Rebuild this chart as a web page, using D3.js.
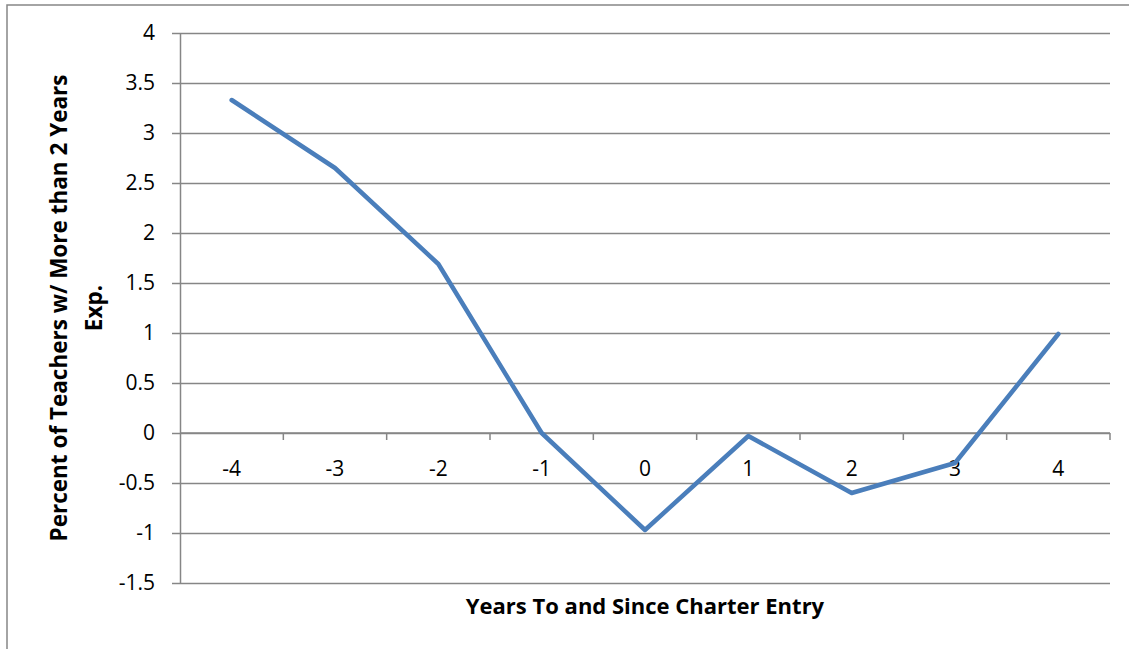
<!DOCTYPE html>
<html>
<head>
<meta charset="utf-8">
<script src="https://cdn.jsdelivr.net/npm/d3@7"></script>
<style>
  html, body { margin: 0; padding: 0; background: #fff; }
  svg { display: block; }
  text { font-family: "Open Sans", "Liberation Sans", sans-serif; fill: #000; }
</style>
</head>
<body>
<svg id="chart" width="1129" height="649"></svg>
<script>
// Years relative to charter entry
const years = ["-4", "-3", "-2", "-1", "0", "1", "2", "3", "4"];
// Change in percent of teachers with more than 2 years experience
const values = [3.33, 2.65, 1.69, 0.0, -0.97, -0.03, -0.6, -0.3, 0.99];
// Value-axis ticks
const yTicks = [-1.5, -1, -0.5, 0, 0.5, 1, 1.5, 2, 2.5, 3, 3.5, 4];

const svg = d3.select("#chart");
const W = 1129, H = 649;
const margin = { left: 180, right: 19, top: 33, bottom: 66 };
const x0 = margin.left, x1 = W - margin.right;
const y0 = margin.top, y1 = H - margin.bottom;

// chart frame
svg.append("rect")
  .attr("x", 7).attr("y", 5)
  .attr("width", W + 10).attr("height", H + 10)
  .attr("fill", "#fff")
  .attr("stroke", "#868686").attr("stroke-width", 1.5);

const x = d3.scaleBand().domain(years).range([x0, x1]);
const y = d3.scaleLinear().domain([-1.5, 4]).range([y1, y0]);

// horizontal gridlines with y-axis ticks
const yAxis = d3.axisLeft(y)
  .tickValues(yTicks)
  .tickSize(-(x1 - x0))
  .tickSizeOuter(0)
  .tickPadding(16)
  .tickFormat(d => String(d));

const gy = svg.append("g")
  .attr("transform", `translate(${x0},0)`)
  .call(yAxis);
gy.select(".domain").attr("stroke", "#868686").attr("stroke-width", 1.5);
gy.selectAll(".tick line")
  .attr("stroke", "#868686").attr("stroke-width", 1.5)
  .attr("x1", -8);
gy.selectAll(".tick text")
  .style("font-size", "21px")
  .attr("x", -25);

// category axis at zero, with tick marks between categories
const gx = svg.append("g").attr("transform", `translate(0,${y(0)})`);
gx.append("line")
  .attr("x1", x0).attr("x2", x1)
  .attr("stroke", "#868686").attr("stroke-width", 1.5);
const bounds = years.map(d => x(d) + x.bandwidth());
gx.selectAll("line.tk").data(bounds).enter().append("line")
  .attr("class", "tk")
  .attr("x1", d => d).attr("x2", d => d)
  .attr("y1", 0).attr("y2", 7)
  .attr("stroke", "#868686").attr("stroke-width", 1.5);
gx.selectAll("text").data(years).enter().append("text")
  .attr("x", d => x(d) + x.bandwidth() / 2)
  .attr("y", 43)
  .attr("text-anchor", "middle")
  .style("font-size", "21px")
  .text(d => d);

// data line
const line = d3.line()
  .x((d, i) => x(years[i]) + x.bandwidth() / 2)
  .y(d => y(d));
svg.append("path")
  .datum(values)
  .attr("d", line)
  .attr("fill", "none")
  .attr("stroke", "#4a7ebb")
  .attr("stroke-width", 4.5)
  .attr("stroke-linejoin", "round")
  .attr("stroke-linecap", "round");

// axis titles
svg.append("text")
  .attr("x", (x0 + x1) / 2)
  .attr("y", 614)
  .attr("text-anchor", "middle")
  .style("font-size", "22px")
  .style("font-weight", "bold")
  .text("Years To and Since Charter Entry");

const yt = svg.append("text")
  .attr("transform", `translate(67,${(y0 + y1) / 2}) rotate(-90)`)
  .attr("text-anchor", "middle")
  .style("font-size", "22.5px")
  .style("font-weight", "bold");
yt.append("tspan").attr("x", 0).attr("dy", 0).text("Percent of Teachers w/ More than 2 Years");
yt.append("tspan").attr("x", 0).attr("dy", 35).text("Exp.");
</script>
</body>
</html>
